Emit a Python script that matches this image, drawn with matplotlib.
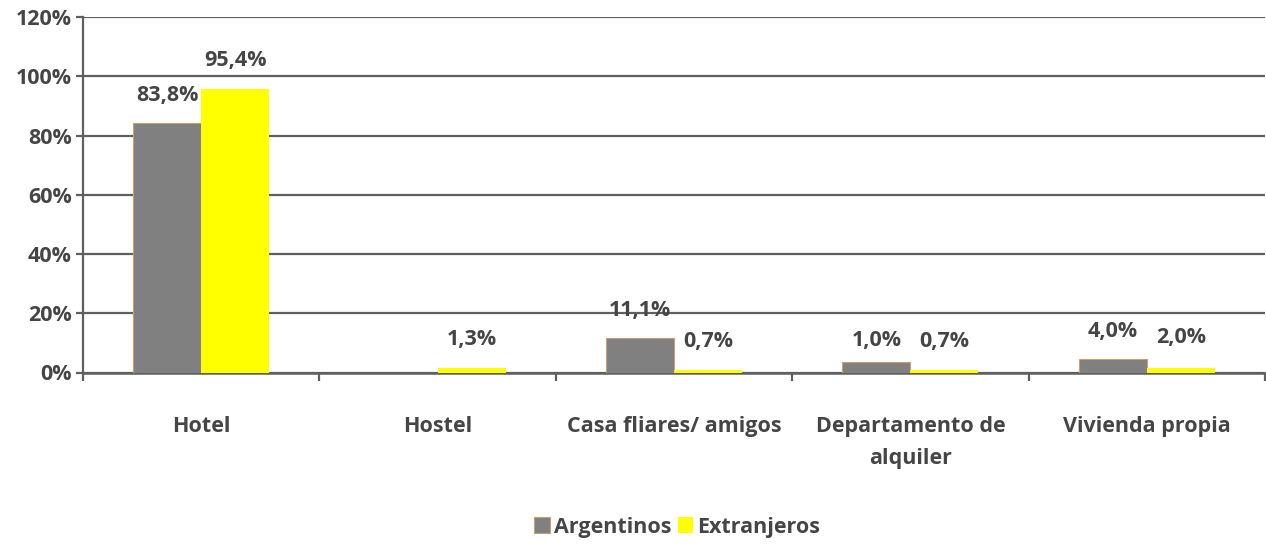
import numpy as np
import matplotlib
matplotlib.use('Agg')
import matplotlib.pyplot as plt
from matplotlib.ticker import FixedLocator, PercentFormatter

categories = ['Hotel', 'Hostel', 'Casa fliares/ amigos', 'Departamento de\nalquiler', 'Vivienda propia']
# heights as drawn in the picture
argentinos = [84.2, 0.0, 11.6, 3.4, 4.6]
extranjeros = [95.6, 1.5, 0.8, 1.0, 1.6]
# values printed in the labels
arg_labels = [83.8, None, 11.1, 1.0, 4.0]
ext_labels = [95.4, 1.3, 0.7, 0.7, 2.0]
yticks = [0, 20, 40, 60, 80, 100, 120]

GRAY = '#808080'
YELLOW = '#ffff00'
TXT = '#454545'
LINE = '#5f5f5f'
FS = 15.5

plt.rcParams['font.family'] = ['Open Sans', 'DejaVu Sans']
plt.rcParams['font.weight'] = 'bold'

fig = plt.figure(figsize=(12.66, 5.44), dpi=100)
ax = fig.add_axes([83/1266, 1-372.5/544, (1265-83)/1266, (372.5-17)/544])

x = np.arange(len(categories))
w = 0.288
ax.bar(x - w/2, argentinos, w, color=GRAY, edgecolor='#c8a070', linewidth=0.8,
       label='Argentinos', zorder=3)
ax.bar(x + w/2, extranjeros, w, color=YELLOW, linewidth=0, label='Extranjeros', zorder=3)

def fmt(v):
    return ('%.1f%%' % v).replace('.', ',')

for i in range(len(categories)):
    if arg_labels[i] is not None:
        ax.annotate(fmt(arg_labels[i]), (x[i] - w/2, arg_labels[i]), xytext=(0, 21),
                    textcoords='offset points', ha='center', va='center',
                    fontsize=FS, color=TXT, zorder=4)
    ax.annotate(fmt(ext_labels[i]), (x[i] + w/2, ext_labels[i]), xytext=(0, 21),
                textcoords='offset points', ha='center', va='center',
                fontsize=FS, color=TXT, zorder=4)

ax.set_xlim(-0.5, len(categories) - 0.5)
ax.set_ylim(0, 120)
ax.set_yticks(yticks)
ax.yaxis.set_major_formatter(PercentFormatter(decimals=0))
ax.yaxis.grid(True, color=LINE, linewidth=1.6, zorder=1)
ax.set_axisbelow(True)

ax.set_xticks(x)
ax.set_xticklabels(categories, fontsize=FS, color=TXT, linespacing=1.7, va='top')
ax.xaxis.set_minor_locator(FixedLocator(np.arange(-0.5, len(categories), 1)))
ax.tick_params(axis='x', which='major', length=0, pad=31)
ax.tick_params(axis='x', which='minor', length=6, width=1.6, color=LINE)
ax.tick_params(axis='y', length=5, width=1.6, color=LINE, labelsize=FS, labelcolor=TXT, pad=3)

for s in ['top', 'right']:
    ax.spines[s].set_visible(False)
ax.spines['left'].set_color(LINE)
ax.spines['left'].set_linewidth(1.6)
ax.spines['bottom'].set_color(LINE)
ax.spines['bottom'].set_linewidth(1.8)

leg = fig.legend(loc='center', bbox_to_anchor=(0.535, 1-527/544), ncol=2, frameon=False,
                 handlelength=0.7, handleheight=0.7, handletextpad=0.2, columnspacing=0.3,
                 prop={'size': FS, 'weight': 'bold'})
for t in leg.get_texts():
    t.set_color(TXT)

fig.savefig('out.png', dpi=100)
